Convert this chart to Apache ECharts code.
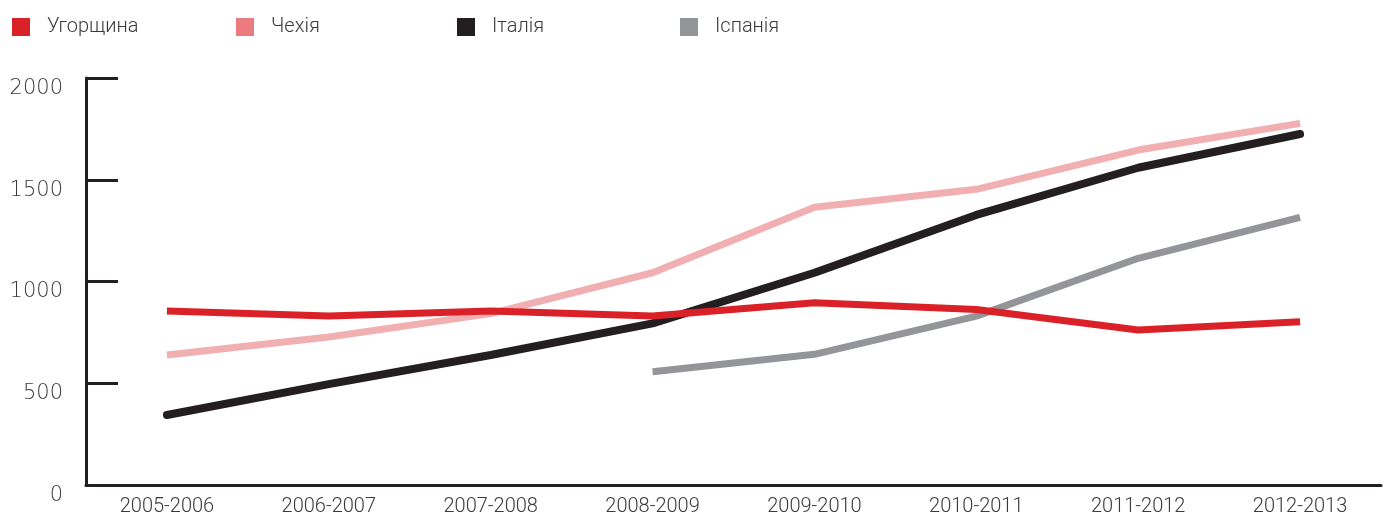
<!DOCTYPE html>
<html>
<head>
<meta charset="utf-8">
<script src="https://cdn.jsdelivr.net/npm/echarts@6/dist/echarts.min.js"></script>
<style>
  html, body { margin: 0; padding: 0; background: #fff; }
  #chart { width: 1390px; height: 520px; }
</style>
</head>
<body>
<div id="chart"></div>
<script>
const years = ['2005-2006', '2006-2007', '2007-2008', '2008-2009', '2009-2010', '2010-2011', '2011-2012', '2012-2013']
const hungary = [855, 830, 855, 830, 896, 862, 762, 802]
const czechia = [639, 727, 842, 1043, 1365, 1453, 1646, 1777]
const italy = [344, 496, 639, 794, 1043, 1327, 1559, 1725]
const spain = ['-', '-', '-', 557, 642, 830, 1114, 1315]
const yTicks = [0, 500, 1000, 1500, 2000]

const axisColor = '#231F20'
const textColor = '#3a3a3a'

const legendAt = (name, left) => ({
  data: [name],
  left: left,
  top: 17,
  padding: 0,
  itemWidth: 18,
  itemHeight: 18,
  icon: 'rect',
  selectedMode: false,
  textStyle: {
    fontFamily: 'Roboto',
    fontWeight: 300,
    fontSize: 20,
    color: textColor,
    padding: [0, 0, 0, 12]
  }
})

const myChart = echarts.init(document.getElementById('chart'))

const option = {
  animation: false,
  legend: [
    legendAt('Угорщина', 12),
    legendAt('Чехія', 236),
    legendAt('Італія', 457),
    legendAt('Іспанія', 680)
  ],
  grid: {
    left: 86,
    right: 9,
    top: 78,
    bottom: 35
  },
  xAxis: {
    type: 'category',
    boundaryGap: true,
    data: years,
    axisLine: { lineStyle: { color: axisColor, width: 3 } },
    axisTick: { inside: true, length: 9, alignWithLabel: true, lineStyle: { color: axisColor, width: 2 } },
    axisLabel: {
      margin: 12,
      fontFamily: 'Roboto',
      fontWeight: 300,
      fontSize: 20,
      color: textColor
    },
    splitLine: { show: false }
  },
  yAxis: {
    type: 'value',
    min: yTicks[0],
    max: yTicks[yTicks.length - 1],
    interval: 500,
    axisLine: { show: true, lineStyle: { color: axisColor, width: 3 } },
    axisTick: { show: true, inside: true, length: 32, lineStyle: { color: axisColor, width: 3 } },
    axisLabel: {
      margin: 23,
      verticalAlign: 'top',
      formatter: (v) => String(v),
      fontFamily: 'DejaVu Sans',
      fontWeight: 300,
      fontSize: 21,
      color: textColor
    },
    splitLine: { show: false }
  },
  series: [
    {
      name: 'Чехія',
      type: 'line',
      data: czechia,
      showSymbol: false,
      itemStyle: { color: '#EC7B80' },
      lineStyle: { color: '#F2AFB2', width: 7, cap: 'butt' },
      z: 2
    },
    {
      name: 'Італія',
      type: 'line',
      data: italy,
      showSymbol: false,
      itemStyle: { color: '#231F20' },
      lineStyle: { color: '#231F20', width: 8, cap: 'round' },
      z: 3
    },
    {
      name: 'Іспанія',
      type: 'line',
      data: spain,
      showSymbol: false,
      itemStyle: { color: '#939598' },
      lineStyle: { color: '#939598', width: 7, cap: 'butt' },
      z: 4
    },
    {
      name: 'Угорщина',
      type: 'line',
      data: hungary,
      showSymbol: false,
      itemStyle: { color: '#DA2128' },
      lineStyle: { color: '#DA2128', width: 7, cap: 'butt' },
      z: 5
    }
  ]
}

option && myChart.setOption(option)
</script>
</body>
</html>
